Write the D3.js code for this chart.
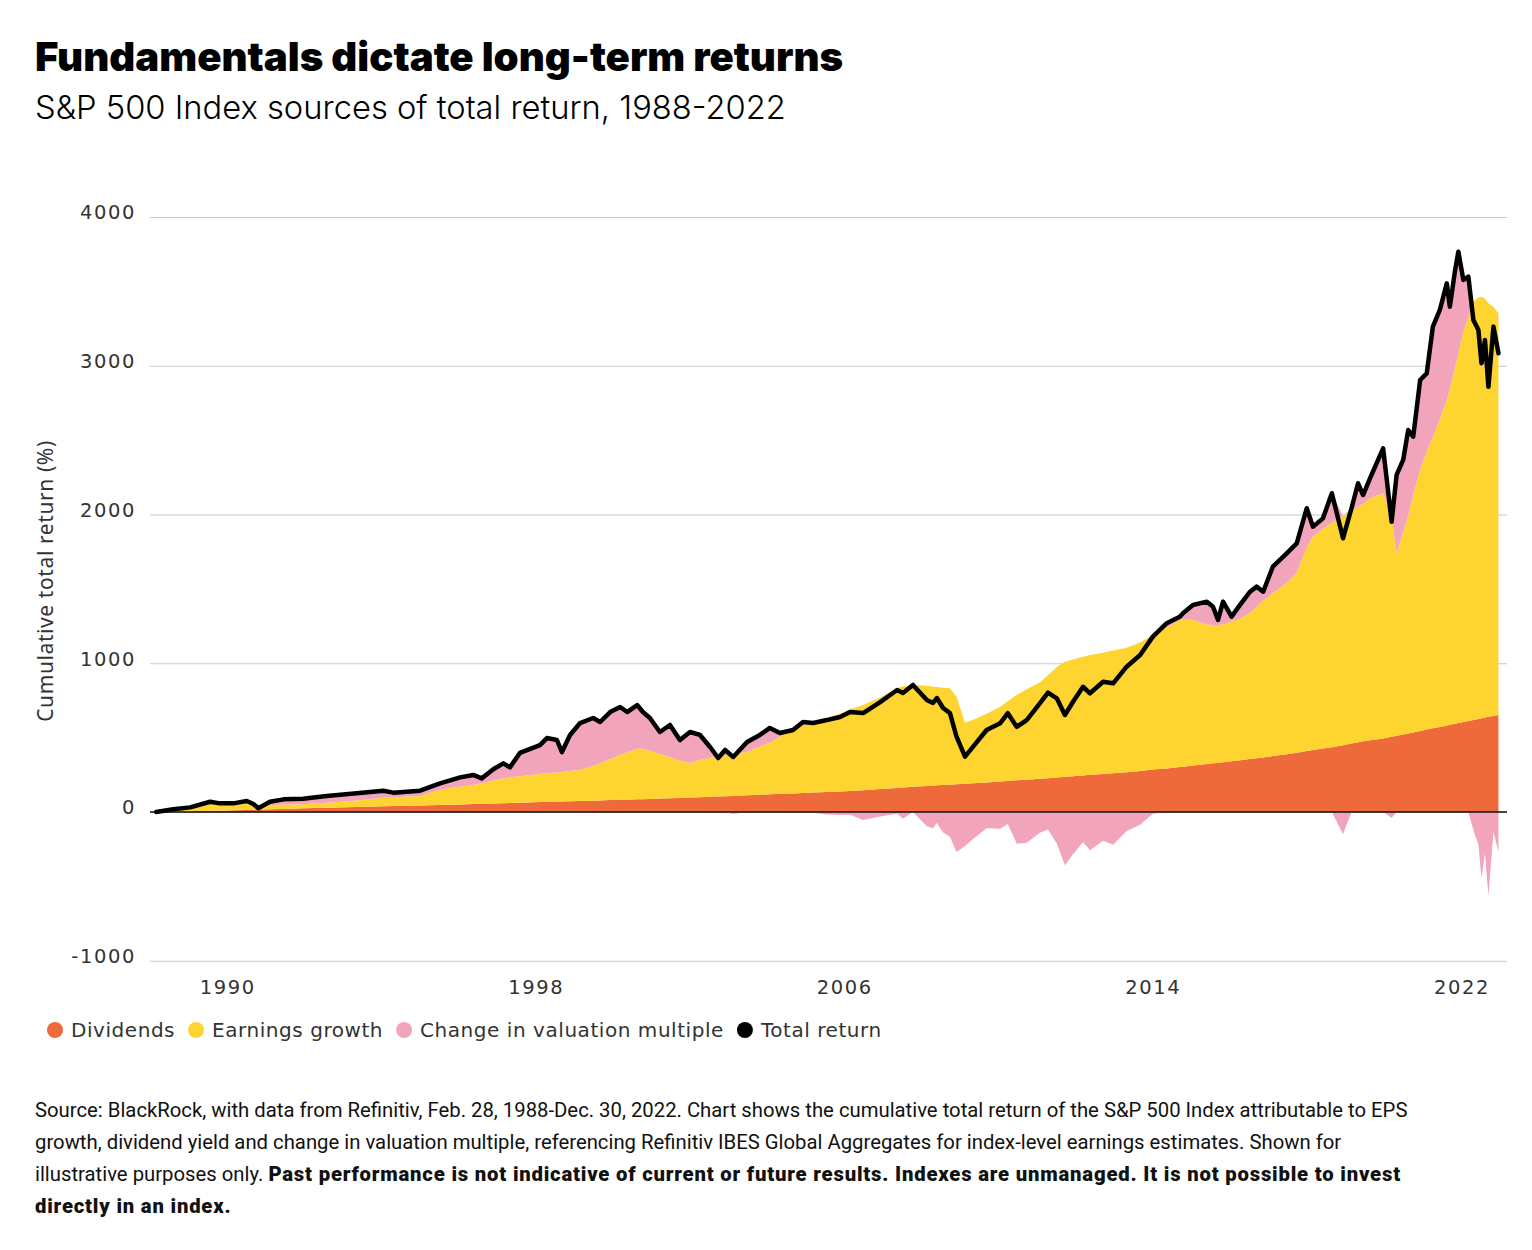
<!DOCTYPE html>
<html>
<head>
<meta charset="utf-8">
<script src="https://cdn.jsdelivr.net/npm/d3@7"></script>
<style>
body { margin: 0; background: #fff; }
svg { display: block; }
</style>
</head>
<body>
<div id="chart"></div>
<script>
// values, decimal years
const dates = [1988.16, 1988.6, 1989.04, 1989.56, 1989.81, 1990.16, 1990.51, 1990.68, 1990.81, 1991.11,
  1991.46, 1991.97, 1992.58, 1993.36, 1994.05, 1994.31, 1995.0, 1995.52, 1996.04, 1996.38,
  1996.6, 1996.9, 1997.16, 1997.33, 1997.59, 1998.11, 1998.29, 1998.55, 1998.68, 1998.89,
  1999.15, 1999.49, 1999.67, 1999.93, 2000.19, 2000.37, 2000.63, 2000.78, 2000.96, 2001.22,
  2001.48, 2001.74, 2002.0, 2002.26, 2002.52, 2002.73, 2002.91, 2003.12, 2003.48, 2003.81,
  2004.07, 2004.33, 2004.67, 2004.93, 2005.19, 2005.55, 2005.89, 2006.15, 2006.49, 2006.93,
  2007.37, 2007.52, 2007.78, 2008.14, 2008.3, 2008.4, 2008.56, 2008.74, 2008.91, 2009.13,
  2009.34, 2009.69, 2010.04, 2010.24, 2010.47, 2010.73, 2011.07, 2011.28, 2011.51, 2011.72,
  2011.93, 2012.19, 2012.37, 2012.71, 2012.97, 2013.32, 2013.67, 2014.0, 2014.36, 2014.7,
  2014.78, 2015.04, 2015.4, 2015.56, 2015.69, 2015.82, 2016.04, 2016.26, 2016.52, 2016.69,
  2016.86, 2017.11, 2017.47, 2017.73, 2017.99, 2018.15, 2018.41, 2018.64, 2018.93, 2019.15,
  2019.32, 2019.45, 2019.63, 2019.97, 2020.19, 2020.32, 2020.49, 2020.62, 2020.75, 2020.93,
  2021.1, 2021.26, 2021.44, 2021.62, 2021.7, 2021.83, 2021.92, 2022.05, 2022.18, 2022.31,
  2022.44, 2022.52, 2022.61, 2022.7, 2022.83, 2022.96];

const dividends = [0, 2, 5, 8, 9, 11, 13, 14, 15, 18,
  20, 25, 29, 34, 38, 40, 44, 47, 51, 54,
  55, 57, 59, 61, 62, 67, 68, 70, 71, 72,
  74, 76, 78, 80, 82, 83, 85, 86, 88, 90,
  92, 94, 97, 100, 102, 104, 106, 108, 112, 116,
  119, 122, 125, 128, 131, 134, 138, 142, 146, 154,
  162, 165, 169, 174, 177, 179, 181, 184, 187, 190,
  193, 199, 205, 209, 213, 217, 223, 227, 232, 237,
  241, 246, 250, 256, 261, 268, 275, 285, 293, 302,
  304, 313, 322, 327, 330, 334, 341, 348, 356, 361,
  367, 376, 389, 398, 410, 416, 427, 436, 449, 461,
  469, 475, 483, 494, 506, 513, 521, 528, 535, 545,
  554, 563, 572, 582, 586, 593, 598, 605, 612, 619,
  626, 630, 635, 640, 646, 652];

const earningsGrowth = [0, 13, 23, 52, 46, 44, 52, 36, 10, 27,
  30, 27, 33, 44, 57, 60, 64, 103, 121, 127,
  138, 155, 166, 172, 178, 188, 192, 195, 197, 203,
  208, 234, 249, 275, 301, 317, 340, 339, 324, 300,
  276, 251, 233, 250, 263, 266, 272, 275, 293, 324,
  346, 384, 430, 452, 474, 501, 522, 548, 573, 616,
  670, 680, 685, 674, 665, 661, 655, 648, 588, 410,
  427, 461, 503, 536, 574, 608, 647, 693, 743, 773,
  784, 798, 805, 814, 824, 837, 865, 905, 947, 989,
  996, 977, 938, 930, 927, 926, 939, 952, 984, 1019,
  1053, 1094, 1151, 1212, 1370, 1434, 1478, 1509, 1541, 1559,
  1581, 1595, 1626, 1649, 1484, 1227, 1359, 1462, 1595, 1755,
  1866, 1957, 2068, 2188, 2264, 2387, 2486, 2625, 2718, 2811,
  2834, 2834, 2815, 2780, 2749, 2701];

const totalReturn = [0, 18, 31, 69, 58, 58, 74, 54, 25, 69,
  85, 89, 108, 126, 143, 130, 143, 193, 233, 249,
  226, 287, 327, 300, 397, 450, 497, 484, 403, 518,
  598, 632, 605, 672, 706, 672, 719, 672, 632, 538,
  585, 484, 538, 518, 437, 363, 417, 370, 471, 518,
  565, 531, 551, 605, 598, 618, 639, 672, 665, 739,
  820, 800, 854, 753, 733, 766, 699, 665, 506, 372,
  439, 551, 596, 664, 573, 618, 731, 802, 764, 652,
  741, 842, 798, 876, 865, 977, 1055, 1179, 1269, 1313,
  1336, 1392, 1414, 1380, 1291, 1414, 1313, 1392, 1481, 1515,
  1481, 1649, 1739, 1806, 2042, 1918, 1974, 2143, 1840, 2042,
  2210, 2131, 2243, 2445, 1952, 2266, 2367, 2568, 2523, 2904,
  2949, 3263, 3375, 3554, 3397, 3632, 3767, 3577, 3599, 3308,
  3240, 3017, 3173, 2859, 3263, 3084];

const yTicks = [-1000, 0, 1000, 2000, 3000, 4000];
const xTicks = [1990, 1998, 2006, 2014, 2022];
const legendLabels = ["Dividends", "Earnings growth", "Change in valuation multiple", "Total return"];
const colors = ["#ef6a3b", "#fdd430", "#f2a5ba", "#000000"];

const width = 1532, height = 1250;

let svg = d3.select("#chart")
    .append("svg")
    .attr("width", width)
    .attr("height", height);

// titles
svg.append("text")
    .attr("x", 35).attr("y", 71)
    .style("font-family", "Inter, 'Noto Sans', sans-serif")
    .style("font-weight", 900)
    .style("font-size", "40.2px")
    .text("Fundamentals dictate long-term returns");

svg.append("text")
    .attr("x", 35).attr("y", 119)
    .style("font-family", "Inter, 'Noto Sans', sans-serif")
    .style("font-weight", 300)
    .style("font-size", "32.7px")
    .text("S&P 500 Index sources of total return, 1988-2022");

let x = d3.scaleLinear().domain([1988, 2023]).range([150, 1500]);
let y = d3.scaleLinear().domain([-1000, 4000]).range([960.75, 217]);

let tickFont = function(sel) {
    sel.style("font-family", "'DejaVu Sans', sans-serif")
        .style("font-size", "19.5px")
        .style("letter-spacing", "1.6px")
        .attr("fill", "#333");
};

// y grid + labels
let yAxis = svg.append("g")
    .attr("transform", "translate(150,0)")
    .call(d3.axisLeft(y).tickValues(yTicks).tickSize(-(1507 - 150)).tickPadding(14).tickFormat(function(d) { return String(d); }));
yAxis.select(".domain").remove();
yAxis.selectAll(".tick line").attr("stroke", "#c9c9c9").attr("stroke-width", 1);
yAxis.selectAll(".tick text").call(tickFont).attr("dy", "0.1em");

svg.append("text")
    .attr("transform", "translate(53,581) rotate(-90)")
    .style("text-anchor", "middle")
    .style("font-family", "'Noto Sans', sans-serif")
    .style("font-size", "21px")
    .style("letter-spacing", "0.6px")
    .attr("fill", "#333")
    .text("Cumulative total return (%)");

// x labels
let xAxis = svg.append("g")
    .attr("transform", "translate(0,977)")
    .call(d3.axisBottom(x).tickValues(xTicks).tickSize(0).tickPadding(3).tickFormat(function(d) { return String(d); }));
xAxis.select(".domain").remove();
xAxis.selectAll(".tick text").call(tickFont);

let rows = dates.map(function(d, i) {
    let earnTop = dividends[i] + earningsGrowth[i];
    return {date: d, div: dividends[i], earnTop: earnTop, total: totalReturn[i], val: totalReturn[i] - earnTop};
});

let negArea = d3.area()
    .x(function(d) { return x(d.date); })
    .y0(y(0))
    .y1(function(d) { return y(Math.min(0, d.val)); });

let divArea = d3.area()
    .x(function(d) { return x(d.date); })
    .y0(y(0))
    .y1(function(d) { return y(d.div); });

let earnArea = d3.area()
    .x(function(d) { return x(d.date); })
    .y0(function(d) { return y(d.div); })
    .y1(function(d) { return y(d.earnTop); });

let posArea = d3.area()
    .x(function(d) { return x(d.date); })
    .y0(function(d) { return y(d.earnTop); })
    .y1(function(d) { return y(Math.max(d.total, d.earnTop)); });

svg.append("path").datum(rows).attr("d", negArea).attr("fill", colors[2]);
svg.append("path").datum(rows).attr("d", divArea).attr("fill", colors[0]);
svg.append("path").datum(rows).attr("d", earnArea).attr("fill", colors[1]);
svg.append("path").datum(rows).attr("d", posArea).attr("fill", colors[2]);

// zero line
svg.append("line")
    .attr("x1", 150).attr("x2", 1507)
    .attr("y1", y(0)).attr("y2", y(0))
    .attr("stroke", "#111").attr("stroke-width", 1.5);

svg.append("path").datum(rows)
    .attr("d", d3.line().x(function(d) { return x(d.date); }).y(function(d) { return y(d.total); }))
    .attr("fill", "none")
    .attr("stroke", colors[3])
    .attr("stroke-width", 4.5)
    .attr("stroke-linejoin", "round")
    .attr("stroke-linecap", "round");

// legend
let legend = svg.append("g").attr("transform", "translate(55,1030)");
let lx = 0;
legendLabels.forEach(function(label, i) {
    legend.append("circle").attr("cx", lx).attr("cy", 0).attr("r", 8).attr("fill", colors[i]);
    let t = legend.append("text")
        .attr("x", lx + 16).attr("y", 7)
        .style("font-family", "'DejaVu Sans', sans-serif")
        .style("font-size", "20px")
        .style("letter-spacing", "0.55px")
        .attr("fill", "#333")
        .text(label);
    lx += 16 + t.node().getComputedTextLength() + 21;
});

// footnote
let notes = [
    [["Source: BlackRock, with data from Refinitiv, Feb. 28, 1988-Dec. 30, 2022. Chart shows the cumulative total return of the S&P 500 Index attributable to EPS", 400]],
    [["growth, dividend yield and change in valuation multiple, referencing Refinitiv IBES Global Aggregates for index-level earnings estimates. Shown for", 400]],
    [["illustrative purposes only. ", 400], ["Past performance is not indicative of current or future results. Indexes are unmanaged. It is not possible to invest", 900]],
    [["directly in an index.", 900]]
];
notes.forEach(function(line, i) {
    let t = svg.append("text")
        .attr("x", 35).attr("y", 1117 + i * 32)
        .style("font-family", "Roboto, sans-serif")
        .style("font-size", "20.3px")
        .attr("fill", "#111");
    line.forEach(function(part) {
        t.append("tspan")
            .style("font-weight", part[1])
            .style("letter-spacing", part[1] > 400 ? "0.8px" : "0px")
            .text(part[0]);
    });
});
</script>
</body>
</html>
